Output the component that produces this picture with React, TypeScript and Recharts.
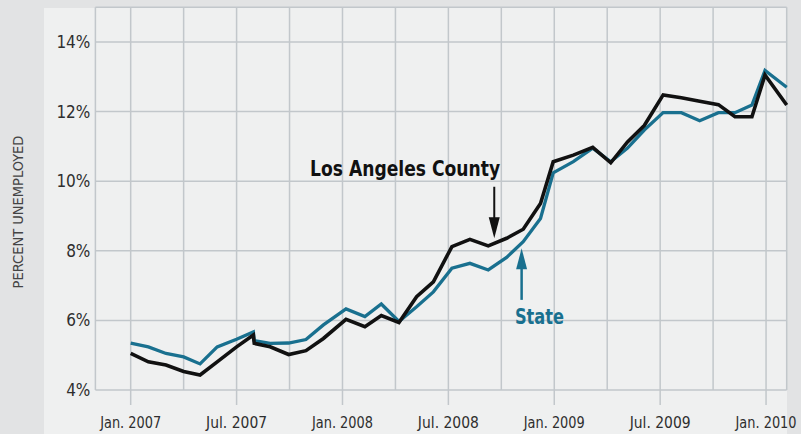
import { CartesianGrid, Line, LineChart, ReferenceDot, ReferenceLine, XAxis, YAxis } from 'recharts'

// month offset from Jan. 2007 (points are not exactly on month lines)
const monthIndex = [
  0, 1, 2, 3, 3.93, 4.9, 6, 6.95, 7.0, 7.9, 8.95, 9.93, 10.92, 12.2, 13.27, 14.2, 15.2, 16.2, 17.15, 18.2,
  19.22, 20.26, 21.3, 22.24, 23.22, 23.94, 25.08, 26.18, 27.2, 28.15, 29.1, 30.17, 31.2, 32.24, 33.3, 34.24,
  35.2, 35.94, 37.17,
]
const laCounty = [
  5.05, 4.81, 4.72, 4.53, 4.43, 4.81, 5.24, 5.58, 5.34, 5.24, 5.02, 5.13, 5.48, 6.03, 5.82, 6.14, 5.94, 6.68,
  7.11, 8.12, 8.33, 8.14, 8.36, 8.62, 9.36, 10.56, 10.75, 10.97, 10.53, 11.13, 11.6, 12.48, 12.4, 12.3, 12.2,
  11.85, 11.85, 13.05, 12.19,
]
const stateRate = [
  5.35, 5.24, 5.05, 4.95, 4.75, 5.24, 5.46, 5.67, 5.42, 5.34, 5.35, 5.45, 5.87, 6.33, 6.11, 6.47, 5.97, 6.39,
  6.82, 7.5, 7.64, 7.45, 7.81, 8.26, 8.93, 10.24, 10.56, 10.95, 10.56, 10.95, 11.47, 11.97, 11.97, 11.74, 11.97,
  11.97, 12.19, 13.18, 12.7,
]

const gridMonths = [0, 3, 6, 9, 12, 15, 18, 21, 24, 27, 30, 33, 36]
const labelMonths = [0, 6, 12, 18, 24, 30, 36]
const monthLabels = ['Jan. 2007', 'Jul. 2007', 'Jan. 2008', 'Jul. 2008', 'Jan. 2009', 'Jul. 2009', 'Jan. 2010']
const percentTicks = [4, 6, 8, 10, 12, 14]

const FONT = '"Liberation Sans Narrow", "DejaVu Sans Condensed", "Roboto", sans-serif'
const GRID = '#c2c7cb'
const BLUE = '#19708f'
const BLACK = '#111111'
const TEXT = '#2e2e2e'

const data = monthIndex.map((m, i) => ({ m, la: laCounty[i], state: stateRate[i] }))

function MonthTick({ x, y, payload }: any) {
  const idx = labelMonths.indexOf(payload.value)
  if (idx < 0) return <g />
  return (
    <g>
      <line x1={x} x2={x} y1={y} y2={y + 15} stroke={GRID} strokeWidth={1.5} />
      <text
        x={x}
        y={y + 38}
        textAnchor="middle"
        fontSize={16.5}
        fill={TEXT}
        fontFamily={FONT}
        textLength={61}
        lengthAdjust="spacingAndGlyphs"
      >
        {monthLabels[idx]}
      </text>
    </g>
  )
}

function Note({ cx, cy, text, color, anchor, len }: any) {
  return (
    <text
      x={cx}
      y={cy}
      textAnchor={anchor}
      fontSize={22}
      fontWeight="bold"
      fill={color}
      fontFamily={FONT}
      textLength={len}
      lengthAdjust="spacingAndGlyphs"
    >
      {text}
    </text>
  )
}

function Head({ cx, cy, color, up }: any) {
  const d = up ? 21 : -21
  return <polygon points={`${cx - 5.5},${cy + d} ${cx + 5.5},${cy + d} ${cx},${cy}`} fill={color} />
}

export default function App() {
  return (
    <div style={{ position: 'absolute', left: 0, top: 0, width: 801, height: 434, background: '#e2e3e4' }}>
      <div style={{ position: 'absolute', left: 44, top: 8, width: 743, height: 426, background: '#eff0f0' }} />
      <div
        style={{
          position: 'absolute',
          left: 17.5,
          top: 211.5,
          transform: 'translate(-50%, -50%) rotate(-90deg)',
          whiteSpace: 'nowrap',
          fontFamily: FONT,
          fontSize: 14.5,
          color: '#444',
        }}
      >
        PERCENT UNEMPLOYED
      </div>
      <div style={{ position: 'absolute', left: 0, top: 0 }}>
        <LineChart width={801} height={434} data={data} margin={{ top: 7.2, right: 14.3, left: 0, bottom: 0 }}>
          <CartesianGrid stroke={GRID} strokeWidth={1.5} />
          <XAxis
            dataKey="m"
            type="number"
            domain={[-2, 37.17]}
            ticks={gridMonths}
            interval={0}
            height={44}
            axisLine={false}
            tickLine={false}
            tickSize={0}
            tickMargin={0}
            tick={<MonthTick />}
          />
          <YAxis
            type="number"
            domain={[4, 15]}
            ticks={percentTicks}
            width={95.4}
            axisLine={false}
            tickLine={false}
            tickSize={0}
            tickMargin={5}
            tickFormatter={(v: number) => `${v}%`}
            tick={{ fontSize: 17, fill: TEXT, fontFamily: FONT }}
          />
          <Line type="linear" dataKey="state" stroke={BLUE} strokeWidth={3.3} dot={false} isAnimationActive={false} />
          <Line type="linear" dataKey="la" stroke={BLACK} strokeWidth={3.6} dot={false} isAnimationActive={false} />

          <ReferenceLine segment={[{ x: 20.6, y: 9.84 }, { x: 20.6, y: 8.8 }]} stroke={BLACK} strokeWidth={2} />
          <ReferenceDot x={20.6} y={8.36} shape={(p: any) => <Head {...p} color={BLACK} up={false} />} />
          <ReferenceDot
            x={20.93}
            y={10.16}
            shape={(p: any) => <Note {...p} text="Los Angeles County" color={BLACK} anchor="end" len={190} />}
          />

          <ReferenceLine segment={[{ x: 22.15, y: 6.59 }, { x: 22.15, y: 7.6 }]} stroke={BLUE} strokeWidth={2.5} />
          <ReferenceDot x={22.15} y={8.07} shape={(p: any) => <Head {...p} color={BLUE} up />} />
          <ReferenceDot
            x={21.77}
            y={5.9}
            shape={(p: any) => <Note {...p} text="State" color={BLUE} anchor="start" len={49} />}
          />
        </LineChart>
      </div>
    </div>
  )
}
